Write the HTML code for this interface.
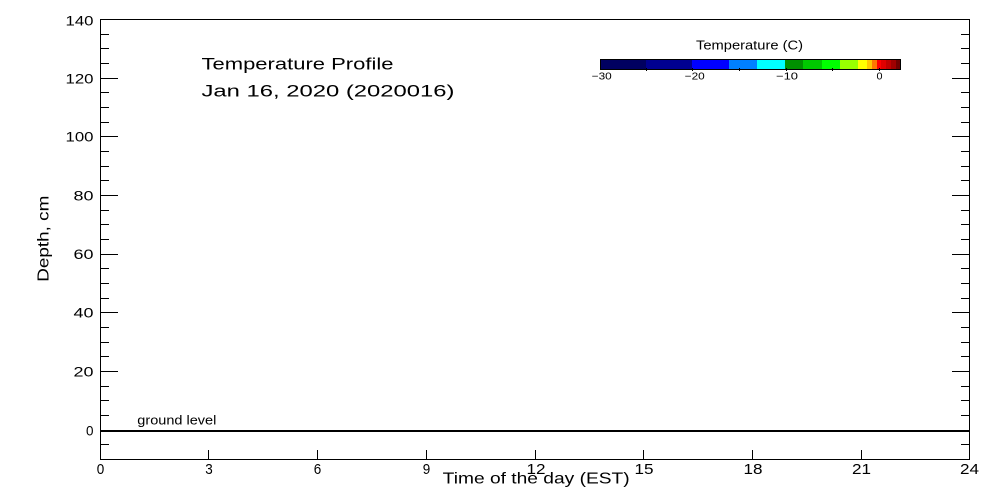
<!DOCTYPE html>
<html>
<head>
<meta charset="utf-8">
<style>
  html,body{margin:0;padding:0;background:#fff;}
  svg{display:block;}
  text{font-family:"Liberation Sans",sans-serif;fill:#000;}
</style>
</head>
<body>
<svg width="1000" height="500" viewBox="0 0 1000 500" xmlns="http://www.w3.org/2000/svg">
  <rect x="0" y="0" width="1000" height="500" fill="#fff"/>
  <g stroke="#000" stroke-width="1" shape-rendering="crispEdges" fill="none">
    <!-- frame -->
    <rect x="100.5" y="19.5" width="869" height="440"/>
    <!-- left major ticks -->
    <path d="M100 78.5H118M100 136.5H118M100 195.5H118M100 254.5H118M100 312.5H118M100 371.5H118M100 430.5H118"/>
    <!-- left minor ticks -->
    <path d="M100 34.5H109M100 48.5H109M100 63.5H109M100 92.5H109M100 107.5H109M100 122.5H109M100 151.5H109M100 166.5H109M100 180.5H109M100 210.5H109M100 224.5H109M100 239.5H109M100 268.5H109M100 283.5H109M100 298.5H109M100 327.5H109M100 342.5H109M100 356.5H109M100 386.5H109M100 400.5H109M100 415.5H109M100 444.5H109"/>
    <!-- right major ticks -->
    <path d="M952 78.5H970M952 136.5H970M952 195.5H970M952 254.5H970M952 312.5H970M952 371.5H970M952 430.5H970"/>
    <!-- right minor ticks -->
    <path d="M961 34.5H970M961 48.5H970M961 63.5H970M961 92.5H970M961 107.5H970M961 122.5H970M961 151.5H970M961 166.5H970M961 180.5H970M961 210.5H970M961 224.5H970M961 239.5H970M961 268.5H970M961 283.5H970M961 298.5H970M961 327.5H970M961 342.5H970M961 356.5H970M961 386.5H970M961 400.5H970M961 415.5H970M961 444.5H970"/>
    <!-- x ticks -->
    <path d="M208.5 450V459M317.5 450V459M426.5 450V459M535.5 450V459M643.5 450V459M752.5 450V459M861.5 450V459"/>
  </g>
  <!-- ground line -->
  <rect x="100" y="430" width="870" height="2" fill="#000"/>

  <!-- y tick labels -->
  <g font-size="14" text-anchor="end">
    <text x="93.5" y="25.5" textLength="28" lengthAdjust="spacingAndGlyphs">140</text>
    <text x="93.5" y="83.5" textLength="28" lengthAdjust="spacingAndGlyphs">120</text>
    <text x="93.5" y="141.5" textLength="28" lengthAdjust="spacingAndGlyphs">100</text>
    <text x="93.5" y="200.5" textLength="20" lengthAdjust="spacingAndGlyphs">80</text>
    <text x="93.5" y="259" textLength="20" lengthAdjust="spacingAndGlyphs">60</text>
    <text x="93.5" y="317.5" textLength="20" lengthAdjust="spacingAndGlyphs">40</text>
    <text x="93.5" y="376.5" textLength="20" lengthAdjust="spacingAndGlyphs">20</text>
    <text x="93.5" y="435.5" textLength="7.5" lengthAdjust="spacingAndGlyphs">0</text>
  </g>
  <!-- x tick labels -->
  <g font-size="15" text-anchor="middle">
    <text x="100.5" y="474" textLength="7.5" lengthAdjust="spacingAndGlyphs">0</text>
    <text x="209" y="474" textLength="7.5" lengthAdjust="spacingAndGlyphs">3</text>
    <text x="317.5" y="474" textLength="7.5" lengthAdjust="spacingAndGlyphs">6</text>
    <text x="426.5" y="474" textLength="7.5" lengthAdjust="spacingAndGlyphs">9</text>
    <text x="536" y="474" textLength="19" lengthAdjust="spacingAndGlyphs">12</text>
    <text x="644" y="474" textLength="19" lengthAdjust="spacingAndGlyphs">15</text>
    <text x="753" y="474" textLength="19" lengthAdjust="spacingAndGlyphs">18</text>
    <text x="861.5" y="474" textLength="19" lengthAdjust="spacingAndGlyphs">21</text>
    <text x="969.5" y="474" textLength="19" lengthAdjust="spacingAndGlyphs">24</text>
  </g>

  <!-- axis titles -->
  <text x="442.7" y="483.5" font-size="16" textLength="187" lengthAdjust="spacingAndGlyphs">Time of the day (EST)</text>
  <text transform="translate(48.3,238.7) rotate(-90)" font-size="16" text-anchor="middle" textLength="86" lengthAdjust="spacingAndGlyphs">Depth, cm</text>

  <!-- plot title -->
  <text x="201.5" y="69.5" font-size="17" textLength="192" lengthAdjust="spacingAndGlyphs">Temperature Profile</text>
  <text x="201.5" y="96.5" font-size="17" textLength="253" lengthAdjust="spacingAndGlyphs">Jan 16, 2020 (2020016)</text>

  <!-- ground level -->
  <text x="137.3" y="424.5" font-size="12.5" textLength="79" lengthAdjust="spacingAndGlyphs">ground level</text>

  <!-- colorbar -->
  <text x="749.5" y="49.5" font-size="13" text-anchor="middle" textLength="107" lengthAdjust="spacingAndGlyphs">Temperature (C)</text>
  <g shape-rendering="crispEdges">
    <rect x="600" y="59" width="46" height="11" fill="#000060"/>
    <rect x="646" y="59" width="46" height="11" fill="#000090"/>
    <rect x="692" y="59" width="37" height="11" fill="#0000FF"/>
    <rect x="729" y="59" width="28" height="11" fill="#0080FF"/>
    <rect x="757" y="59" width="28" height="11" fill="#00FFFF"/>
    <rect x="785" y="59" width="18" height="11" fill="#009000"/>
    <rect x="803" y="59" width="19" height="11" fill="#00C800"/>
    <rect x="822" y="59" width="18" height="11" fill="#00FF00"/>
    <rect x="840" y="59" width="18" height="11" fill="#99FF00"/>
    <rect x="858" y="59" width="9" height="11" fill="#FFFF00"/>
    <rect x="867" y="59" width="5" height="11" fill="#FFC800"/>
    <rect x="872" y="59" width="5" height="11" fill="#FF7800"/>
    <rect x="877" y="59" width="4" height="11" fill="#FF0000"/>
    <rect x="881" y="59" width="5" height="11" fill="#E00000"/>
    <rect x="886" y="59" width="5" height="11" fill="#C00000"/>
    <rect x="891" y="59" width="5" height="11" fill="#A00000"/>
    <rect x="896" y="59" width="5" height="11" fill="#700000"/>
    <rect x="600.5" y="59.5" width="300" height="10" fill="none" stroke="#000" stroke-width="1"/>
    <path d="M646.5 68V71M692.5 68V71M739.5 68V71M786.5 68V71M832.5 68V71M879.5 68V71" stroke="#000" stroke-width="1"/>
  </g>
  <g font-size="10" text-anchor="middle">
    <text x="601.7" y="79.3" textLength="20" lengthAdjust="spacingAndGlyphs">−30</text>
    <text x="694.7" y="79.3" textLength="20" lengthAdjust="spacingAndGlyphs">−20</text>
    <text x="787" y="79.3" textLength="22" lengthAdjust="spacingAndGlyphs">−10</text>
    <text x="879.5" y="79.3" textLength="6" lengthAdjust="spacingAndGlyphs">0</text>
  </g>
</svg>
</body>
</html>
